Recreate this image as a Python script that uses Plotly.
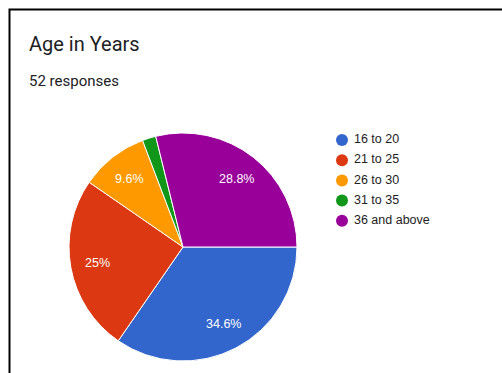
import math
import plotly.graph_objects as go

categories = ["16 to 20", "21 to 25", "26 to 30", "31 to 35", "36 and above"]
counts = [18, 13, 5, 1, 15]
colors = ["#3366cc", "#dc3912", "#ff9900", "#109618", "#990099"]
title_text = "Age in Years"
subtitle_text = "52 responses"

total = sum(counts)
def fmt(v):
    p = round(v / total * 100, 1)
    if p < 5:
        return ""
    s = f"{p:.1f}"
    if s.endswith(".0"):
        s = s[:-2]
    return s + "%"
labels_text = [fmt(v) for v in counts]

W, H = 502, 373
cx, cy, R = 183, 247, 114
label_r = 87

fig = go.Figure()
fig.add_trace(go.Pie(
    labels=categories, values=counts,
    textinfo="none",
    marker=dict(colors=colors, line=dict(color="white", width=1)),
    sort=False, direction="clockwise", rotation=90, showlegend=False,
    hoverinfo="label+value+percent",
    domain=dict(x=[(cx - R) / W, (cx + R) / W], y=[(H - cy - R) / H, (H - cy + R) / H]),
))

# legend drawn as markers + text on a pixel-scaled hidden axis
leg_x = 342
leg_y0, leg_dy = 140, 20.2
fig.add_trace(go.Scatter(
    x=[leg_x] * len(categories),
    y=[leg_y0 + i * leg_dy for i in range(len(categories))],
    mode="markers+text", text=categories, texttemplate=" %{text}",
    textposition="middle right",
    marker=dict(color=colors, size=12, symbol="circle"),
    textfont=dict(size=12.5, color="#222222", family="Liberation Sans, Arial"),
    showlegend=False, hoverinfo="skip", cliponaxis=False,
))

annotations = [
    dict(text=title_text, x=27 / W, y=1 - 44 / H, xref="paper", yref="paper",
         xanchor="left", yanchor="middle", showarrow=False,
         font=dict(size=20, color="#202124", family="Roboto")),
    dict(text=subtitle_text, x=27 / W, y=1 - 81 / H, xref="paper", yref="paper",
         xanchor="left", yanchor="middle", showarrow=False,
         font=dict(size=15, color="#202124", family="Roboto")),
]
# slice labels placed at each slice's mid-angle (clockwise from 3 o'clock)
cum = 0
for v, t in zip(counts, labels_text):
    mid = (cum + v / 2) / total * 2 * math.pi
    cum += v
    if not t:
        continue
    annotations.append(dict(
        text=t, x=cx + label_r * math.cos(mid), y=cy + label_r * math.sin(mid),
        xref="x", yref="y", showarrow=False, xanchor="center", yanchor="middle",
        font=dict(size=12.5, color="white", family="Liberation Sans, Arial")))

fig.update_layout(
    width=W, height=H, margin=dict(l=0, r=0, t=0, b=0),
    paper_bgcolor="white", plot_bgcolor="rgba(0,0,0,0)",
    xaxis=dict(visible=False, range=[0, W], domain=[0, 1], fixedrange=True),
    yaxis=dict(visible=False, range=[H, 0], domain=[0, 1], fixedrange=True),
    showlegend=False,
    annotations=annotations,
    shapes=[dict(type="rect", xref="paper", yref="paper",
                 x0=9.5 / W, x1=1.2, y0=-0.2, y1=1 - 9.5 / H,
                 line=dict(color="black", width=2))],
)
fig.write_html("out.html")
